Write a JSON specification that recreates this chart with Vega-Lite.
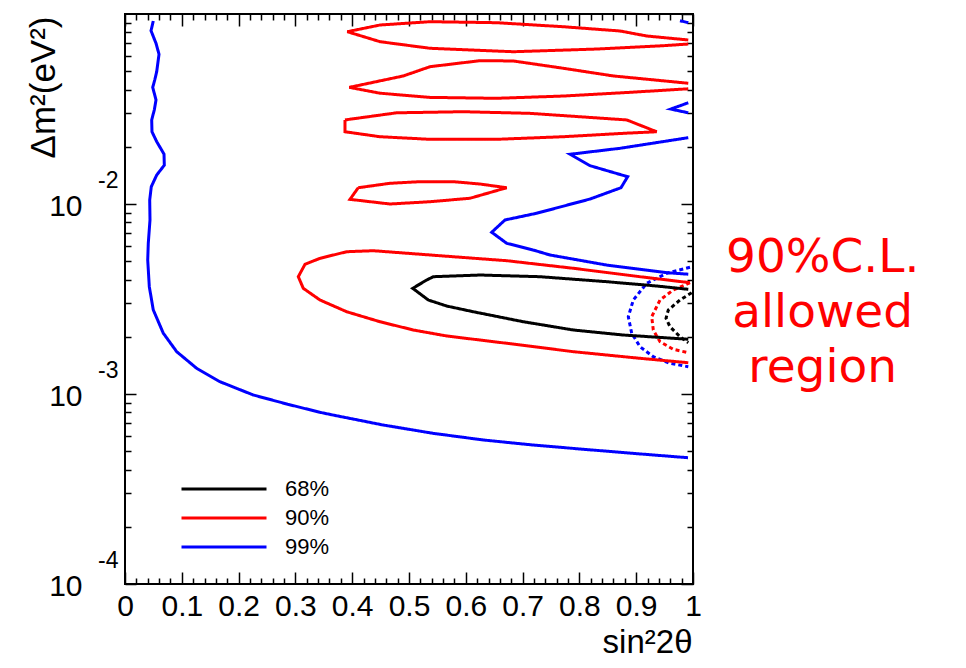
{
"$schema":"https://vega.github.io/schema/vega-lite/v6.json",
"width":568,"height":570,
"autosize":{"type":"none"},
"padding":{"left":125,"top":14,"right":273,"bottom":84},
"title":{"text":["90%C.L.","allowed","region"],"orient":"right","angle":0,"align":"center","anchor":"middle","baseline":"middle","font":"DejaVu Sans","fontSize":47,"fontWeight":"normal","color":"#ff0000","lineHeight":55,"offset":135,"dx":-207,"dy":-41},
"data":{"values":[
{"c":"99%","p":"B1","s":"solid","o":1,"x":0.0498,"y":0.0919},
{"c":"99%","p":"B1","s":"solid","o":2,"x":0.0458,"y":0.0817},
{"c":"99%","p":"B1","s":"solid","o":3,"x":0.0546,"y":0.0701},
{"c":"99%","p":"B1","s":"solid","o":4,"x":0.0599,"y":0.0614},
{"c":"99%","p":"B1","s":"solid","o":5,"x":0.0558,"y":0.0497},
{"c":"99%","p":"B1","s":"solid","o":6,"x":0.0523,"y":0.0449},
{"c":"99%","p":"B1","s":"solid","o":7,"x":0.0488,"y":0.0411},
{"c":"99%","p":"B1","s":"solid","o":8,"x":0.0546,"y":0.0353},
{"c":"99%","p":"B1","s":"solid","o":9,"x":0.0516,"y":0.0313},
{"c":"99%","p":"B1","s":"solid","o":10,"x":0.0470,"y":0.0277},
{"c":"99%","p":"B1","s":"solid","o":11,"x":0.0475,"y":0.0240},
{"c":"99%","p":"B1","s":"solid","o":12,"x":0.0558,"y":0.0213},
{"c":"99%","p":"B1","s":"solid","o":13,"x":0.0687,"y":0.0183},
{"c":"99%","p":"B1","s":"solid","o":14,"x":0.0692,"y":0.0160},
{"c":"99%","p":"B1","s":"solid","o":15,"x":0.0558,"y":0.0142},
{"c":"99%","p":"B1","s":"solid","o":16,"x":0.0463,"y":0.01234},
{"c":"99%","p":"B1","s":"solid","o":17,"x":0.0435,"y":0.0105},
{"c":"99%","p":"B1","s":"solid","o":18,"x":0.0440,"y":0.00824},
{"c":"99%","p":"B1","s":"solid","o":19,"x":0.0410,"y":0.00623},
{"c":"99%","p":"B1","s":"solid","o":20,"x":0.0400,"y":0.00507},
{"c":"99%","p":"B1","s":"solid","o":21,"x":0.0428,"y":0.00367},
{"c":"99%","p":"B1","s":"solid","o":22,"x":0.0498,"y":0.00277},
{"c":"99%","p":"B1","s":"solid","o":23,"x":0.0674,"y":0.00209},
{"c":"99%","p":"B1","s":"solid","o":24,"x":0.0910,"y":0.00167},
{"c":"99%","p":"B1","s":"solid","o":25,"x":0.1262,"y":0.001365},
{"c":"99%","p":"B1","s":"solid","o":26,"x":0.1673,"y":0.00116},
{"c":"99%","p":"B1","s":"solid","o":27,"x":0.2259,"y":0.000988},
{"c":"99%","p":"B1","s":"solid","o":28,"x":0.2847,"y":0.000886},
{"c":"99%","p":"B1","s":"solid","o":29,"x":0.3433,"y":0.000801},
{"c":"99%","p":"B1","s":"solid","o":30,"x":0.3662,"y":0.000775},
{"c":"99%","p":"B1","s":"solid","o":31,"x":0.4542,"y":0.000687},
{"c":"99%","p":"B1","s":"solid","o":32,"x":0.5423,"y":0.000621},
{"c":"99%","p":"B1","s":"solid","o":33,"x":0.6303,"y":0.000573},
{"c":"99%","p":"B1","s":"solid","o":34,"x":0.7183,"y":0.000539},
{"c":"99%","p":"B1","s":"solid","o":35,"x":0.8063,"y":0.000512},
{"c":"99%","p":"B1","s":"solid","o":36,"x":0.8944,"y":0.000487},
{"c":"99%","p":"B1","s":"solid","o":37,"x":0.9912,"y":0.000462},
{"c":"99%","p":"B2","s":"solid","o":1,"x":0.9917,"y":0.02234},
{"c":"99%","p":"B2","s":"solid","o":2,"x":0.8715,"y":0.01964},
{"c":"99%","p":"B2","s":"solid","o":3,"x":0.7835,"y":0.01827},
{"c":"99%","p":"B2","s":"solid","o":4,"x":0.8187,"y":0.01591},
{"c":"99%","p":"B2","s":"solid","o":5,"x":0.8850,"y":0.01392},
{"c":"99%","p":"B2","s":"solid","o":6,"x":0.8732,"y":0.01218},
{"c":"99%","p":"B2","s":"solid","o":7,"x":0.8187,"y":0.01062},
{"c":"99%","p":"B2","s":"solid","o":8,"x":0.7248,"y":0.00894},
{"c":"99%","p":"B2","s":"solid","o":9,"x":0.6690,"y":0.00824},
{"c":"99%","p":"B2","s":"solid","o":10,"x":0.6456,"y":0.00710},
{"c":"99%","p":"B2","s":"solid","o":11,"x":0.6720,"y":0.00621},
{"c":"99%","p":"B2","s":"solid","o":12,"x":0.7183,"y":0.00573},
{"c":"99%","p":"B2","s":"solid","o":13,"x":0.7482,"y":0.00539},
{"c":"99%","p":"B2","s":"solid","o":14,"x":0.8481,"y":0.00477},
{"c":"99%","p":"B2","s":"solid","o":15,"x":0.9537,"y":0.00435},
{"c":"99%","p":"B2","s":"solid","o":16,"x":0.9917,"y":0.00427},
{"c":"99%","p":"B3","s":"solid","o":1,"x":0.9771,"y":0.0922},
{"c":"99%","p":"B3","s":"solid","o":2,"x":0.9917,"y":0.0900},
{"c":"99%","p":"B4","s":"solid","o":1,"x":0.9917,"y":0.0341},
{"c":"99%","p":"B4","s":"solid","o":2,"x":0.9607,"y":0.0316},
{"c":"99%","p":"B4","s":"solid","o":3,"x":0.9917,"y":0.0302},
{"c":"99%","p":"B5","s":"dashed","o":1,"x":0.9947,"y":0.004643},
{"c":"99%","p":"B5","s":"dashed","o":2,"x":0.9537,"y":0.004319},
{"c":"99%","p":"B5","s":"dashed","o":3,"x":0.9185,"y":0.003825},
{"c":"99%","p":"B5","s":"dashed","o":4,"x":0.8949,"y":0.003124},
{"c":"99%","p":"B5","s":"dashed","o":5,"x":0.8861,"y":0.002551},
{"c":"99%","p":"B5","s":"dashed","o":6,"x":0.8921,"y":0.002087},
{"c":"99%","p":"B5","s":"dashed","o":7,"x":0.9067,"y":0.001774},
{"c":"99%","p":"B5","s":"dashed","o":8,"x":0.9301,"y":0.001571},
{"c":"99%","p":"B5","s":"dashed","o":9,"x":0.9595,"y":0.001450},
{"c":"99%","p":"B5","s":"dashed","o":10,"x":0.9917,"y":0.001392},
{"c":"90%","p":"R1","s":"solid","o":1,"x":0.9947,"y":0.003853},
{"c":"90%","p":"R1","s":"solid","o":2,"x":0.9067,"y":0.004143},
{"c":"90%","p":"R1","s":"solid","o":3,"x":0.7893,"y":0.004588},
{"c":"90%","p":"R1","s":"solid","o":4,"x":0.6720,"y":0.005030},
{"c":"90%","p":"R1","s":"solid","o":5,"x":0.5546,"y":0.005342},
{"c":"90%","p":"R1","s":"solid","o":6,"x":0.4371,"y":0.005678},
{"c":"90%","p":"R1","s":"solid","o":7,"x":0.3903,"y":0.005609},
{"c":"90%","p":"R1","s":"solid","o":8,"x":0.3433,"y":0.005177},
{"c":"90%","p":"R1","s":"solid","o":9,"x":0.3169,"y":0.004815},
{"c":"90%","p":"R1","s":"solid","o":10,"x":0.3051,"y":0.004143},
{"c":"90%","p":"R1","s":"solid","o":11,"x":0.3139,"y":0.003599},
{"c":"90%","p":"R1","s":"solid","o":12,"x":0.3433,"y":0.003124},
{"c":"90%","p":"R1","s":"solid","o":13,"x":0.3903,"y":0.002710},
{"c":"90%","p":"R1","s":"solid","o":14,"x":0.4489,"y":0.002401},
{"c":"90%","p":"R1","s":"solid","o":15,"x":0.5076,"y":0.002172},
{"c":"90%","p":"R1","s":"solid","o":16,"x":0.5664,"y":0.002020},
{"c":"90%","p":"R1","s":"solid","o":17,"x":0.6720,"y":0.001849},
{"c":"90%","p":"R1","s":"solid","o":18,"x":0.7893,"y":0.001670},
{"c":"90%","p":"R1","s":"solid","o":19,"x":0.9067,"y":0.001541},
{"c":"90%","p":"R1","s":"solid","o":20,"x":0.9917,"y":0.001461},
{"c":"90%","p":"R2","s":"solid","o":1,"x":0.9917,"y":0.0730},
{"c":"90%","p":"R2","s":"solid","o":2,"x":0.9185,"y":0.0766},
{"c":"90%","p":"R2","s":"solid","o":3,"x":0.8715,"y":0.0814},
{"c":"90%","p":"R2","s":"solid","o":4,"x":0.7717,"y":0.0857},
{"c":"90%","p":"R2","s":"solid","o":5,"x":0.6544,"y":0.0900},
{"c":"90%","p":"R2","s":"solid","o":6,"x":0.5370,"y":0.0911},
{"c":"90%","p":"R2","s":"solid","o":7,"x":0.4489,"y":0.0875},
{"c":"90%","p":"R2","s":"solid","o":8,"x":0.3914,"y":0.0807},
{"c":"90%","p":"R2","s":"solid","o":9,"x":0.4489,"y":0.0715},
{"c":"90%","p":"R2","s":"solid","o":10,"x":0.5370,"y":0.0660},
{"c":"90%","p":"R2","s":"solid","o":11,"x":0.6836,"y":0.0633},
{"c":"90%","p":"R2","s":"solid","o":12,"x":0.8305,"y":0.0654},
{"c":"90%","p":"R2","s":"solid","o":13,"x":0.9477,"y":0.0681},
{"c":"90%","p":"R2","s":"solid","o":14,"x":0.9917,"y":0.0695},
{"c":"90%","p":"R3","s":"solid","o":1,"x":0.9917,"y":0.0432},
{"c":"90%","p":"R3","s":"solid","o":2,"x":0.8597,"y":0.0472},
{"c":"90%","p":"R3","s":"solid","o":3,"x":0.7717,"y":0.0518},
{"c":"90%","p":"R3","s":"solid","o":4,"x":0.6836,"y":0.0566},
{"c":"90%","p":"R3","s":"solid","o":5,"x":0.6250,"y":0.0568},
{"c":"90%","p":"R3","s":"solid","o":6,"x":0.5370,"y":0.0528},
{"c":"90%","p":"R3","s":"solid","o":7,"x":0.4900,"y":0.0472},
{"c":"90%","p":"R3","s":"solid","o":8,"x":0.3949,"y":0.0411},
{"c":"90%","p":"R3","s":"solid","o":9,"x":0.4489,"y":0.0383},
{"c":"90%","p":"R3","s":"solid","o":10,"x":0.5370,"y":0.0364},
{"c":"90%","p":"R3","s":"solid","o":11,"x":0.6544,"y":0.0360},
{"c":"90%","p":"R3","s":"solid","o":12,"x":0.7717,"y":0.0370},
{"c":"90%","p":"R3","s":"solid","o":13,"x":0.8891,"y":0.0387},
{"c":"90%","p":"R3","s":"solid","o":14,"x":0.9917,"y":0.0404},
{"c":"90%","p":"R4","s":"solid","o":1,"x":0.3873,"y":0.0277},
{"c":"90%","p":"R4","s":"solid","o":2,"x":0.4783,"y":0.0302},
{"c":"90%","p":"R4","s":"solid","o":3,"x":0.5956,"y":0.0306},
{"c":"90%","p":"R4","s":"solid","o":4,"x":0.7130,"y":0.0300},
{"c":"90%","p":"R4","s":"solid","o":5,"x":0.8833,"y":0.0277},
{"c":"90%","p":"R4","s":"solid","o":6,"x":0.9361,"y":0.0240},
{"c":"90%","p":"R4","s":"solid","o":7,"x":0.8833,"y":0.0236},
{"c":"90%","p":"R4","s":"solid","o":8,"x":0.7717,"y":0.0226},
{"c":"90%","p":"R4","s":"solid","o":9,"x":0.6544,"y":0.0219},
{"c":"90%","p":"R4","s":"solid","o":10,"x":0.5370,"y":0.0219},
{"c":"90%","p":"R4","s":"solid","o":11,"x":0.4489,"y":0.0226},
{"c":"90%","p":"R4","s":"solid","o":12,"x":0.3873,"y":0.0240},
{"c":"90%","p":"R4","s":"solid","o":13,"x":0.3873,"y":0.0277},
{"c":"90%","p":"R5","s":"solid","o":1,"x":0.4107,"y":0.01218},
{"c":"90%","p":"R5","s":"solid","o":2,"x":0.4665,"y":0.01285},
{"c":"90%","p":"R5","s":"solid","o":3,"x":0.5194,"y":0.01311},
{"c":"90%","p":"R5","s":"solid","o":4,"x":0.5780,"y":0.01311},
{"c":"90%","p":"R5","s":"solid","o":5,"x":0.6250,"y":0.01274},
{"c":"90%","p":"R5","s":"solid","o":6,"x":0.6720,"y":0.01218},
{"c":"90%","p":"R5","s":"solid","o":7,"x":0.6074,"y":0.01072},
{"c":"90%","p":"R5","s":"solid","o":8,"x":0.5370,"y":0.01028},
{"c":"90%","p":"R5","s":"solid","o":9,"x":0.4665,"y":0.0100},
{"c":"90%","p":"R5","s":"solid","o":10,"x":0.3961,"y":0.01058},
{"c":"90%","p":"R5","s":"solid","o":11,"x":0.4107,"y":0.01218},
{"c":"90%","p":"R6","s":"dashed","o":1,"x":0.9947,"y":0.003853},
{"c":"90%","p":"R6","s":"dashed","o":2,"x":0.9653,"y":0.003527},
{"c":"90%","p":"R6","s":"dashed","o":3,"x":0.9419,"y":0.003124},
{"c":"90%","p":"R6","s":"dashed","o":4,"x":0.9273,"y":0.002551},
{"c":"90%","p":"R6","s":"dashed","o":5,"x":0.9301,"y":0.002172},
{"c":"90%","p":"R6","s":"dashed","o":6,"x":0.9419,"y":0.001885},
{"c":"90%","p":"R6","s":"dashed","o":7,"x":0.9653,"y":0.001719},
{"c":"90%","p":"R6","s":"dashed","o":8,"x":0.9917,"y":0.001650},
{"c":"68%","p":"K1","s":"solid","o":1,"x":0.9917,"y":0.003556},
{"c":"68%","p":"K1","s":"solid","o":2,"x":0.9361,"y":0.003702},
{"c":"68%","p":"K1","s":"solid","o":3,"x":0.8481,"y":0.003900},
{"c":"68%","p":"K1","s":"solid","o":4,"x":0.7306,"y":0.004143},
{"c":"68%","p":"K1","s":"solid","o":5,"x":0.6250,"y":0.004229},
{"c":"68%","p":"K1","s":"solid","o":6,"x":0.5428,"y":0.004143},
{"c":"68%","p":"K1","s":"solid","o":7,"x":0.5312,"y":0.003981},
{"c":"68%","p":"K1","s":"solid","o":8,"x":0.5065,"y":0.003599},
{"c":"68%","p":"K1","s":"solid","o":9,"x":0.5340,"y":0.003124},
{"c":"68%","p":"K1","s":"solid","o":10,"x":0.5664,"y":0.002904},
{"c":"68%","p":"K1","s":"solid","o":11,"x":0.6132,"y":0.002710},
{"c":"68%","p":"K1","s":"solid","o":12,"x":0.7012,"y":0.002401},
{"c":"68%","p":"K1","s":"solid","o":13,"x":0.7893,"y":0.002172},
{"c":"68%","p":"K1","s":"solid","o":14,"x":0.8773,"y":0.002044},
{"c":"68%","p":"K1","s":"solid","o":15,"x":0.9917,"y":0.001941},
{"c":"68%","p":"K2","s":"dashed","o":1,"x":0.9977,"y":0.003412},
{"c":"68%","p":"K2","s":"dashed","o":2,"x":0.9771,"y":0.003124},
{"c":"68%","p":"K2","s":"dashed","o":3,"x":0.9565,"y":0.002767},
{"c":"68%","p":"K2","s":"dashed","o":4,"x":0.9525,"y":0.002502},
{"c":"68%","p":"K2","s":"dashed","o":5,"x":0.9595,"y":0.002260},
{"c":"68%","p":"K2","s":"dashed","o":6,"x":0.9771,"y":0.002002},
{"c":"68%","p":"K2","s":"dashed","o":7,"x":0.9917,"y":0.001862}
]},
"layer":[
{"mark":{"type":"line","strokeWidth":3,"clip":true},
 "encoding":{
  "x":{"field":"x","type":"quantitative","scale":{"domain":[0,1],"nice":false,"zero":false},
   "axis":{"orient":"bottom","values":[0,0.1,0.2,0.3,0.4,0.5,0.6,0.7,0.8,0.9,1],"format":"~g","tickSize":-12,"labelPadding":19,"labelFontSize":30,"labelFlush":false,"labelOverlap":false,
    "title":"sin²2θ","titleFontSize":33,"titleX":567,"titleY":68,"titleAlign":"right","titleBaseline":"alphabetic","titleAngle":0}},
  "y":{"field":"y","type":"quantitative","scale":{"type":"log","domain":[0.0001,0.1],"nice":false},
   "axis":{"orient":"left","values":[0.0001,0.001,0.01],"labelExpr":"'10'","tickSize":-11,"labelPadding":54,"labelFontSize":30,"labelBaseline":"middle","labelAlign":"right","labelOffset":2,"labelOverlap":false,"labelFlush":false,
    "title":"Δm²(eV²)","titleFontSize":35,"titleX":-71,"titleY":2,"titleAlign":"right","titleAngle":-90,"titleBaseline":"alphabetic"}},
  "color":{"field":"c","type":"nominal","scale":{"domain":["68%","90%","99%"],"range":["#000000","#ff0000","#0000ff"]},
   "legend":{"title":null,"orient":"none","legendX":88,"legendY":464,"symbolType":"M-5,0H5","symbolSize":289,"symbolStrokeWidth":3,"labelFontSize":22,"labelFont":"Liberation Sans","labelColor":"#000","labelOffset":50,"rowPadding":7,"padding":0}},
  "strokeDash":{"field":"s","type":"nominal","scale":{"domain":["solid","dashed"],"range":[[1,0],[4,3]]},"legend":null},
  "detail":{"field":"p"},
  "order":{"field":"o","type":"quantitative"}
 }},
{"mark":{"type":"point","opacity":0},
 "encoding":{
  "x":{"field":"x","type":"quantitative","axis":{"orient":"bottom","values":[0.02,0.04,0.06,0.08,0.12,0.14,0.16,0.18,0.22,0.24,0.26,0.28,0.32,0.34,0.36,0.38,0.42,0.44,0.46,0.48,0.52,0.54,0.56,0.58,0.62,0.64,0.66,0.68,0.72,0.74,0.76,0.78,0.82,0.84,0.86,0.88,0.92,0.94,0.96,0.98],"tickSize":-6,"labels":false,"title":null}},
  "y":{"field":"y","type":"quantitative","axis":{"orient":"left","values":[0.0001,0.001,0.01],"labelExpr":"'-' + round(-log(datum.value)/LN10)","ticks":false,"tickSize":0,"labelPadding":7,"labelFontSize":23,"labelAlign":"right","labelBaseline":"middle","labelOffset":-24,"labelOverlap":false,"labelFlush":false,"title":null}}
 }},
{"mark":{"type":"point","opacity":0},
 "encoding":{
  "x":{"field":"x","type":"quantitative","axis":{"orient":"top","values":[0,0.1,0.2,0.3,0.4,0.5,0.6,0.7,0.8,0.9,1],"tickSize":-12,"labels":false,"title":null}},
  "y":{"field":"y","type":"quantitative","axis":{"orient":"left","values":[0.0002,0.0003,0.0004,0.0005,0.0006,0.0007,0.0008,0.0009,0.002,0.003,0.004,0.005,0.006,0.007,0.008,0.009,0.02,0.03,0.04,0.05,0.06,0.07,0.08,0.09],"tickSize":-6,"labels":false,"title":null}}
 }},
{"mark":{"type":"point","opacity":0},
 "encoding":{
  "x":{"field":"x","type":"quantitative","axis":{"orient":"top","values":[0.02,0.04,0.06,0.08,0.12,0.14,0.16,0.18,0.22,0.24,0.26,0.28,0.32,0.34,0.36,0.38,0.42,0.44,0.46,0.48,0.52,0.54,0.56,0.58,0.62,0.64,0.66,0.68,0.72,0.74,0.76,0.78,0.82,0.84,0.86,0.88,0.92,0.94,0.96,0.98],"tickSize":-6,"labels":false,"title":null}},
  "y":{"field":"y","type":"quantitative","axis":{"orient":"right","values":[0.0001,0.001,0.01,0.1],"tickSize":-12,"labels":false,"title":null}}
 }},
{"mark":{"type":"point","opacity":0},
 "encoding":{
  "x":{"field":"x","type":"quantitative","axis":null},
  "y":{"field":"y","type":"quantitative","axis":{"orient":"right","values":[0.0002,0.0003,0.0004,0.0005,0.0006,0.0007,0.0008,0.0009,0.002,0.003,0.004,0.005,0.006,0.007,0.008,0.009,0.02,0.03,0.04,0.05,0.06,0.07,0.08,0.09],"tickSize":-6,"labels":false,"title":null}}
 }}
],
"resolve":{"axis":{"x":"independent","y":"independent"}},
"config":{
 "view":{"stroke":"#000000","strokeWidth":2},
 "axis":{"grid":false,"domain":false,"tickColor":"#000000","tickWidth":1.5,"labelColor":"#000000","titleColor":"#000000","labelFont":"Liberation Sans","titleFont":"Liberation Sans","titleFontWeight":"normal"}
}
}
